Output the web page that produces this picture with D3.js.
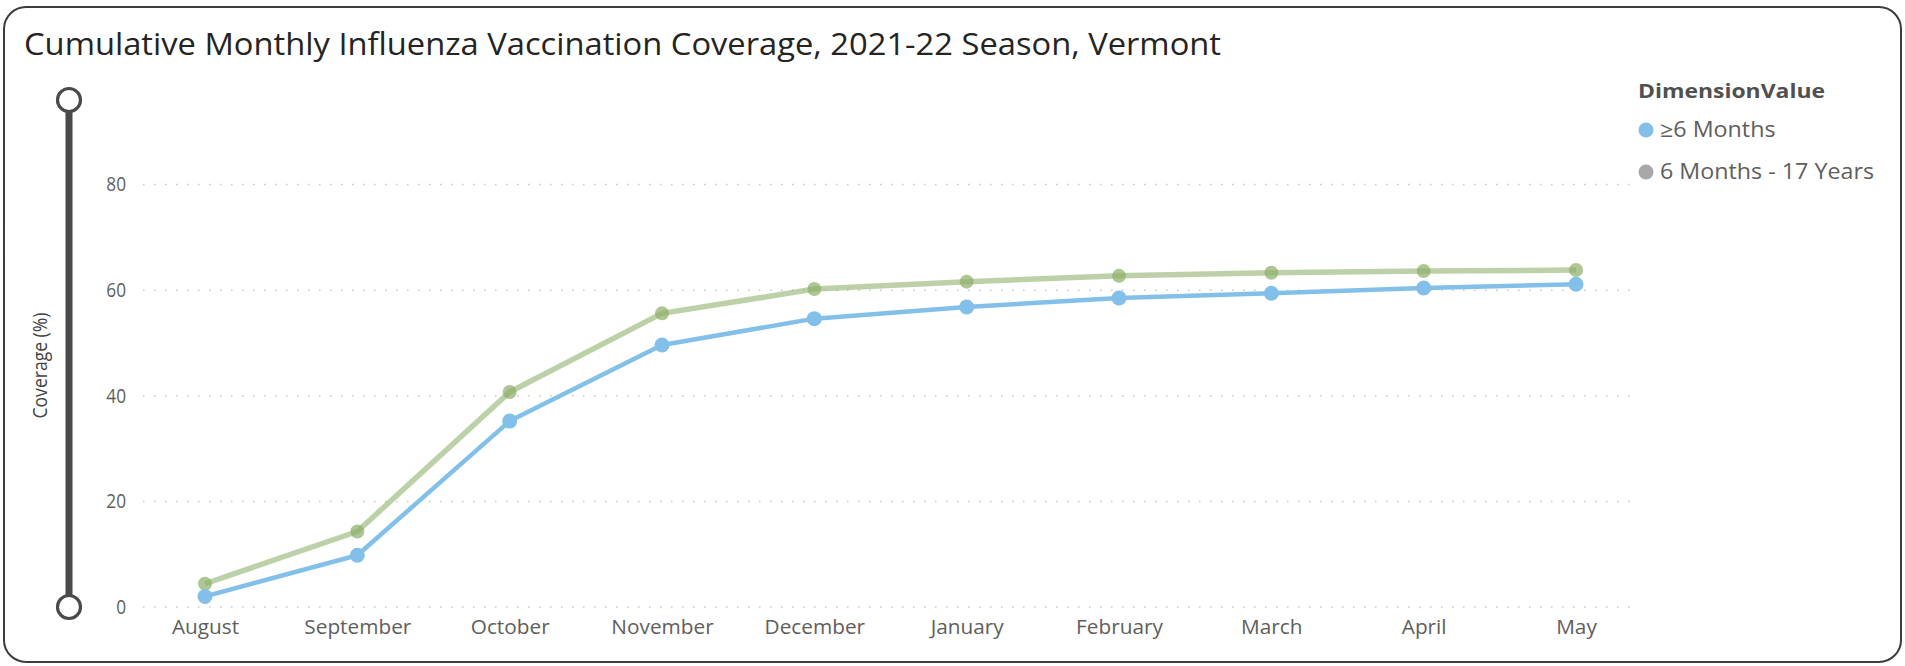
<!DOCTYPE html>
<html>
<head>
<meta charset="utf-8">
<script src="https://cdn.jsdelivr.net/npm/d3@7"></script>
<style>
  html, body { margin: 0; padding: 0; background: #ffffff; }
  svg { display: block; font-family: "Open Sans", "Noto Sans", sans-serif; }
</style>
</head>
<body>
<svg id="chart" width="1905" height="666"></svg>
<script>
// ---------- data ----------
const months = ["August", "September", "October", "November", "December",
                "January", "February", "March", "April", "May"];
const allAges = [2.0, 9.8, 35.2, 49.6, 54.6, 56.8, 58.5, 59.4, 60.4, 61.1];      // ≥6 Months
const pediatric = [4.4, 14.3, 40.7, 55.6, 60.2, 61.6, 62.7, 63.3, 63.6, 63.8];  // 6 Months - 17 Years
const yTicks = [0, 20, 40, 60, 80];
const seriesNames = ["≥6 Months", "6 Months - 17 Years"];
const titleText = "Cumulative Monthly Influenza Vaccination Coverage, 2021-22 Season, Vermont";
const yAxisTitle = "Coverage (%)";
const legendTitle = "DimensionValue";

// ---------- layout ----------
const svg = d3.select("#chart");
const W = 1905, H = 666;
const plotLeft = 143, plotRight = 1632;

const x = d3.scalePoint().domain(months).range([205, 1576]);
const y = d3.scaleLinear().domain([0, 96]).range([607, 100]);

// helper: compress text to target width (reference font is narrower)
function fit(sel, target) {
  sel.each(function () {
    const w = this.getComputedTextLength();
    if (w > 0) d3.select(this).attr("textLength", target).attr("lengthAdjust", "spacingAndGlyphs");
  });
}
function fitByFactor(sel, factor) {
  sel.each(function () {
    const w = this.getComputedTextLength();
    if (w > 0) d3.select(this).attr("textLength", w * factor).attr("lengthAdjust", "spacingAndGlyphs");
  });
}

// border
svg.append("rect")
  .attr("x", 4).attr("y", 7).attr("width", W - 8).attr("height", 655)
  .attr("rx", 22).attr("ry", 22)
  .attr("fill", "#ffffff").attr("stroke", "#3c3c3c").attr("stroke-width", 2);

// title
const title = svg.append("text")
  .attr("x", 24).attr("y", 55)
  .attr("font-size", 31).attr("fill", "#252423")
  .text(titleText);
fit(title, 1197);

// gridlines
svg.append("g").selectAll("line")
  .data(yTicks).join("line")
  .attr("x1", plotLeft).attr("x2", plotRight)
  .attr("y1", d => y(d)).attr("y2", d => y(d))
  .attr("stroke", "#c6c6c6").attr("stroke-width", 1.5)
  .attr("stroke-dasharray", "1.5,9.5");

// y axis
const yAxis = svg.append("g")
  .attr("transform", "translate(126,0)")
  .call(d3.axisLeft(y).tickValues(yTicks).tickSize(0).tickPadding(0));
yAxis.select(".domain").remove();
yAxis.selectAll("text")
  .attr("font-family", "'Open Sans', sans-serif")
  .attr("font-size", 20).attr("fill", "#605E5C");
fitByFactor(yAxis.selectAll("text"), 0.86);

// x axis
const xAxis = svg.append("g")
  .attr("transform", "translate(0,620)")
  .call(d3.axisBottom(x).tickSize(0).tickPadding(0));
xAxis.select(".domain").remove();
xAxis.selectAll("text")
  .attr("font-family", "'Open Sans', sans-serif")
  .attr("font-size", 20).attr("fill", "#605E5C")
  .attr("dy", "0.71em");
{
  // compute compression factor from "September"
  let f = 1;
  xAxis.selectAll("text").each(function (d) {
    if (d === "September") f = 107 / this.getComputedTextLength();
  });
  fitByFactor(xAxis.selectAll("text"), f);
}

// y axis title
const yTitle = svg.append("text")
  .attr("transform", `translate(47,${(y(0) + y(96)) / 2 + 12}) rotate(-90)`)
  .attr("text-anchor", "middle")
  .attr("font-size", 20).attr("fill", "#444444")
  .text(yAxisTitle);
fit(yTitle, 106);

// slider (range control)
const slider = svg.append("g");
slider.append("line")
  .attr("x1", 69).attr("x2", 69)
  .attr("y1", y(96)).attr("y2", y(0))
  .attr("stroke", "#4a4a4a").attr("stroke-width", 7);
slider.selectAll("circle")
  .data([96, 0]).join("circle")
  .attr("cx", 69).attr("cy", d => y(d)).attr("r", 11.5)
  .attr("fill", "#ffffff").attr("stroke", "#4a4a4a").attr("stroke-width", 3.2);

// series
const line = d3.line().x((d, i) => x(months[i])).y(d => y(d));

const green = "#8DB06A";
const blue = "#82C0EA";

svg.append("path").datum(pediatric)
  .attr("d", line).attr("fill", "none")
  .attr("stroke", green).attr("stroke-opacity", 0.58)
  .attr("stroke-width", 5.5).attr("stroke-linejoin", "round");
svg.append("g").selectAll("circle")
  .data(pediatric).join("circle")
  .attr("cx", (d, i) => x(months[i])).attr("cy", d => y(d)).attr("r", 7)
  .attr("fill", green).attr("fill-opacity", 0.72);

svg.append("path").datum(allAges)
  .attr("d", line).attr("fill", "none")
  .attr("stroke", blue).attr("stroke-width", 4.5).attr("stroke-linejoin", "round");
svg.append("g").selectAll("circle")
  .data(allAges).join("circle")
  .attr("cx", (d, i) => x(months[i])).attr("cy", d => y(d)).attr("r", 7.5)
  .attr("fill", blue);

// legend
const legend = svg.append("g");
const lt = legend.append("text")
  .attr("x", 1638).attr("y", 98)
  .attr("font-size", 20).attr("font-weight", "bold").attr("fill", "#505050")
  .text(legendTitle);
fit(lt, 187);

const legendColors = [blue, "#A8A8A8"];
const legendY = [130, 172];
const items = legend.selectAll("g.item")
  .data(seriesNames).join("g").attr("class", "item")
  .attr("transform", (d, i) => `translate(1646,${legendY[i]})`);
items.append("circle").attr("r", 7.5).attr("fill", (d, i) => legendColors[i]);
const itemTexts = items.append("text")
  .attr("x", 14).attr("dy", "0.35em")
  .attr("font-size", 21).attr("fill", "#605E5C")
  .text(d => d);
{
  let f = 1;
  itemTexts.each(function (d) {
    if (d === "6 Months - 17 Years") f = 214 / this.getComputedTextLength();
  });
  fitByFactor(itemTexts, f);
}
</script>
</body>
</html>
